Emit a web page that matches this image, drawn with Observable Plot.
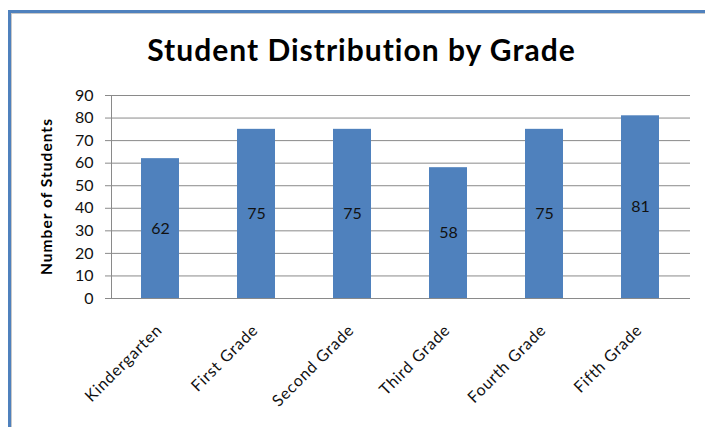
<!DOCTYPE html>
<html>
<head>
<meta charset="utf-8">
<script src="https://cdn.jsdelivr.net/npm/d3@7"></script>
<script src="https://cdn.jsdelivr.net/npm/@observablehq/plot@0.6"></script>
<style>
  html, body { margin: 0; padding: 0; background: #fff; width: 705px; height: 427px; overflow: hidden; }
  #frame { position: absolute; left: 8px; top: 10px; width: 720px; height: 440px;
           border-top: 3px solid #4F81BD; border-left: 3px solid #4F81BD; }
  #inner { position: absolute; left: 11px; top: 13px; width: 720px; height: 440px;
           border-top: 1px solid #c8c8c8; border-left: 1px solid #c8c8c8; }
  #title { position: absolute; left: 0; width: 723px; top: 31px; text-align: center;
           font-family: Lato, sans-serif; font-weight: bold; font-size: 30px; letter-spacing: 1px;
           font-variant-ligatures: none; color: #000; }
  #chart { position: absolute; left: 0; top: 80px; }
  #chart text { font-variant-ligatures: none; }
</style>
</head>
<body>
<div id="frame"></div>
<div id="inner"></div>
<div id="title">Student Distribution by Grade</div>
<div id="chart"></div>
<script>
const grades = ["Kindergarten", "First Grade", "Second Grade", "Third Grade", "Fourth Grade", "Fifth Grade"];
const students = [62, 75, 75, 58, 75, 81];
const yTicks = [0, 10, 20, 30, 40, 50, 60, 70, 80, 90];
const yLabel = "Number of Students";

const data = grades.map((g, i) => ({grade: g, n: students[i]}));

const chart = Plot.plot({
  width: 705,
  height: 347,
  marginTop: 15,
  marginLeft: 111,
  marginRight: 15,
  marginBottom: 129,
  style: {fontFamily: "Lato, sans-serif", background: "transparent"},
  x: {domain: grades, paddingInner: 0.6, paddingOuter: 0.3, axis: null},
  y: {domain: [0, 90], axis: null},
  marks: [
    Plot.gridY(yTicks, {stroke: "#8a8a8a", strokeOpacity: 1, strokeWidth: 1}),
    Plot.barY(data, {x: "grade", y: "n", fill: "#4F81BD"}),
    Plot.frame({anchor: "left", stroke: "#8a8a8a"}),
    Plot.axisY(yTicks, {tickSize: 6, tickPadding: 12, stroke: "#8a8a8a", fill: "#111", fontSize: 16, label: null}),
    Plot.text(data, {x: "grade", y: d => d.n / 2, text: d => String(d.n), fontSize: 16, fill: "#111"}),
    Plot.text(grades, {x: d => d, frameAnchor: "bottom", rotate: -45, textAnchor: "end", lineAnchor: "middle", dy: 29, dx: -1, fontSize: 16, fill: "#111"}),
    Plot.text([yLabel], {frameAnchor: "left", rotate: -90, textAnchor: "middle", lineAnchor: "middle", dx: -64, fontSize: 15.5, fontWeight: "bold", fill: "#000"})
  ]
});
chart.querySelectorAll("text").forEach(t => {
  if (t.textContent === yLabel) {
    t.setAttribute("textLength", 156);
    t.setAttribute("lengthAdjust", "spacing");
  } else if (grades.includes(t.textContent)) {
    t.style.letterSpacing = "0.8px";
  }
});
document.getElementById("chart").appendChild(chart);
</script>
</body>
</html>
